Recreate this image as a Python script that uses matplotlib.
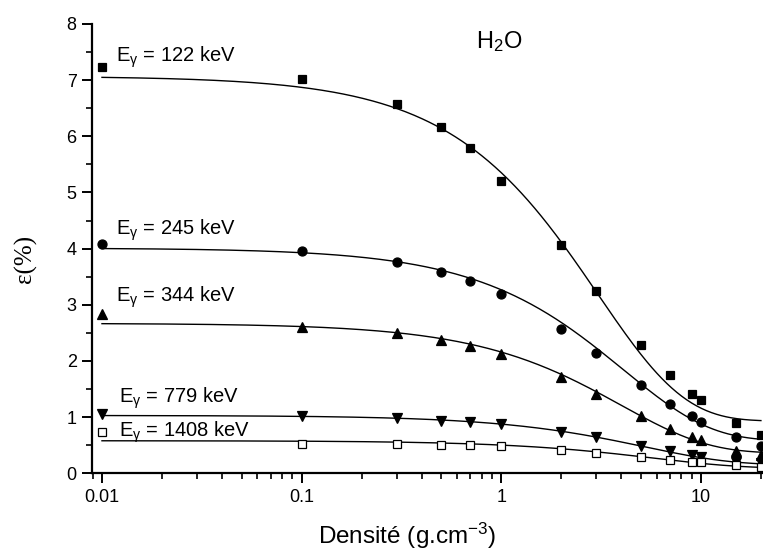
import numpy as np
import matplotlib
matplotlib.use("Agg")
import matplotlib.pyplot as plt
from matplotlib.ticker import LogLocator, FixedLocator, NullFormatter, MultipleLocator

plt.rcParams['font.family'] = ['Liberation Sans', 'DejaVu Sans']
plt.rcParams['mathtext.fontset'] = 'custom'
plt.rcParams['mathtext.rm'] = 'Liberation Sans'
plt.rcParams['mathtext.it'] = 'Liberation Sans'

# Density values (g.cm-3)
density = [0.01, 0.1, 0.3, 0.5, 0.7, 1, 2, 3, 5, 7, 9, 10, 15, 20]

# Efficiency (%) for each gamma energy
eff_122 = [7.24, 7.02, 6.57, 6.17, 5.79, 5.20, 4.06, 3.25, 2.29, 1.75, 1.42, 1.30, 0.89, 0.68]
eff_245 = [4.08, 3.96, 3.77, 3.58, 3.42, 3.19, 2.57, 2.14, 1.58, 1.24, 1.02, 0.92, 0.65, 0.49]
eff_344 = [2.83, 2.61, 2.49, 2.37, 2.26, 2.12, 1.71, 1.41, 1.02, 0.78, 0.64, 0.59, 0.40, 0.32]
eff_779 = [1.05, 1.02, 0.98, 0.94, 0.91, 0.87, 0.74, 0.65, 0.49, 0.39, 0.33, 0.29, 0.21, 0.19]
eff_1408 = [0.73, 0.53, 0.53, 0.50, 0.50, 0.48, 0.42, 0.37, 0.29, 0.24, 0.20, 0.20, 0.14, 0.11]

# Exponential-decay fit parameters: y = y0 + A*exp(-x/t)
fit_y0 = [0.93, 0.58, 0.36, 0.15, 0.09]
fit_A = [6.14, 3.43, 2.31, 0.88, 0.49]
fit_t = [3.05, 4.1, 4.0, 5.2, 5.8]

labels = ["122", "245", "344", "779", "1408"]
label_pos = [(0.0117, 7.40), (0.0117, 4.32), (0.0118, 3.14), (0.0122, 1.34), (0.0122, 0.73)]

series = [eff_122, eff_245, eff_344, eff_779, eff_1408]
markers = ['s', 'o', '^', 'v', 's']
fills = ['k', 'k', 'k', 'k', 'white']
msizes = [5.5, 6.5, 6.5, 6.5, 5.2]

fig = plt.figure(figsize=(7.63, 5.54), dpi=100)
ax = fig.add_axes([92 / 763, 80.7 / 554, 671 / 763, 449.3 / 554])

xs = np.logspace(-2, np.log10(20), 400)
for i, ys in enumerate(series):
    curve = fit_y0[i] + fit_A[i] * np.exp(-xs / fit_t[i])
    ax.plot(xs, curve, color='black', lw=1.0, zorder=2)
    ax.plot(density, ys, linestyle='none', marker=markers[i], ms=msizes[i],
            mfc=fills[i], mec='black', mew=0.9, zorder=3, clip_on=False)
    ax.text(label_pos[i][0], label_pos[i][1], r"E$_{\gamma}$ = " + labels[i] + " keV",
            fontsize=14.5, va='center', ha='left')

ax.text(0.752, 7.68, r"H$_2$O", fontsize=17, va='center', ha='left')

ax.set_xscale('log')
ax.set_xlim(10 ** -2.05, 10 ** 1.3115)
ax.set_ylim(0, 8)

ax.xaxis.set_major_locator(FixedLocator([0.01, 0.1, 1, 10]))
ax.set_xticklabels(["0.01", "0.1", "1", "10"])
ax.xaxis.set_minor_locator(LogLocator(base=10, subs=np.arange(2, 10)))
ax.xaxis.set_minor_formatter(NullFormatter())
ax.yaxis.set_major_locator(MultipleLocator(1))
ax.yaxis.set_minor_locator(MultipleLocator(0.5))

for s in ['top', 'right']:
    ax.spines[s].set_visible(False)
for s in ['left', 'bottom']:
    ax.spines[s].set_linewidth(1.6)

ax.tick_params(which='major', direction='out', length=7, width=1.4, labelsize=13, pad=4)
ax.tick_params(which='minor', direction='out', length=4.5, width=1.2)

ax.set_xlabel("Densité (g.cm$^{-3}$)", fontsize=17.5)
ax.xaxis.set_label_coords(0.47, -0.105)
ax.set_ylabel("ε(%)", fontsize=18, family=['Liberation Serif', 'DejaVu Serif'])
ax.yaxis.set_label_coords(-0.082, 0.477)

fig.savefig("out.png", dpi=100)
